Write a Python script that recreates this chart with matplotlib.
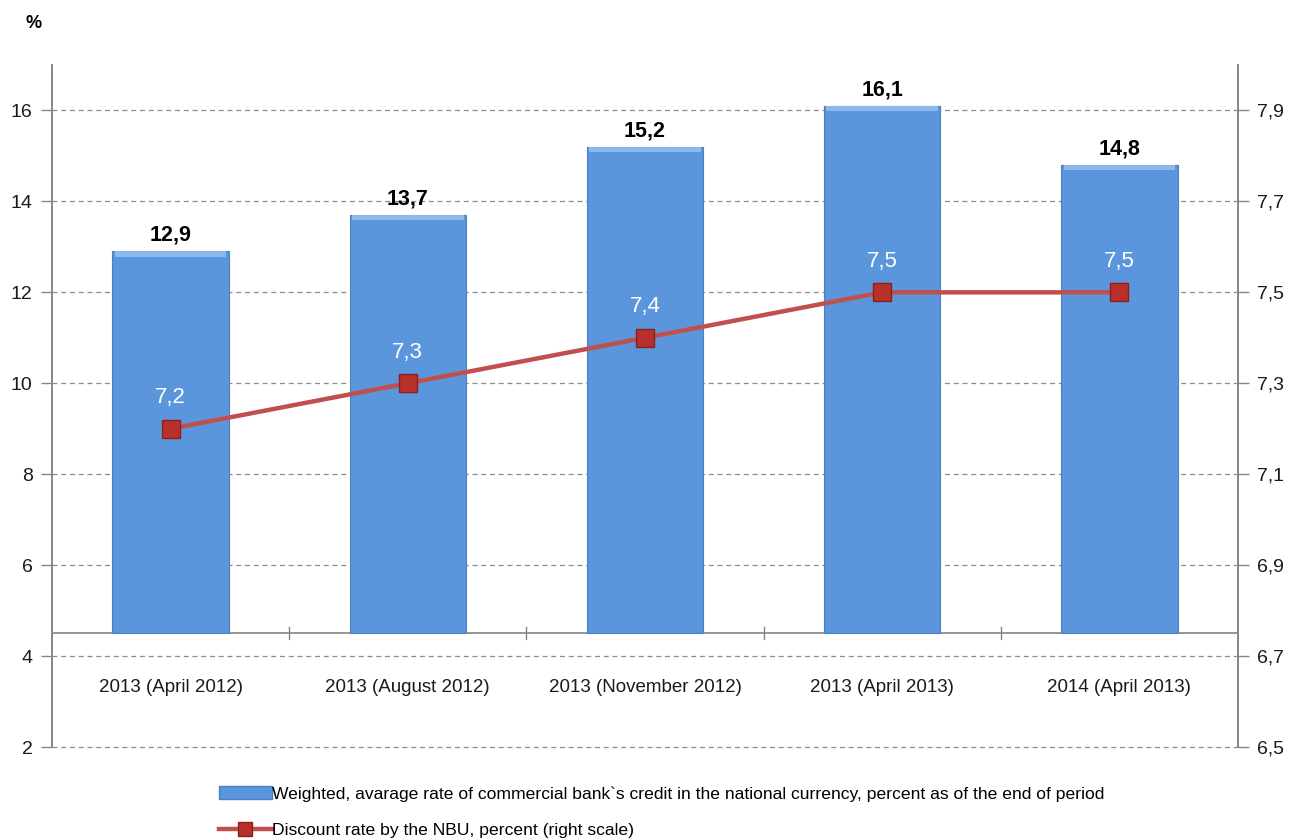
import matplotlib.pyplot as plt
from matplotlib.patches import Patch
from matplotlib.lines import Line2D

plt.rcParams['font.family'] = ['Liberation Sans', 'DejaVu Sans']

# data
categories = ['2013 (April 2012)', '2013 (August 2012)', '2013 (November 2012)',
              '2013 (April 2013)', '2014 (April 2013)']
credit_rate = [12.9, 13.7, 15.2, 16.1, 14.8]
discount_rate = [7.2, 7.3, 7.4, 7.5, 7.5]
left_ticks = [2, 4, 6, 8, 10, 12, 14, 16]
right_ticks = [6.5, 6.7, 6.9, 7.1, 7.3, 7.5, 7.7, 7.9]

bar_color = '#5B96DC'
line_color = '#C0504D'
axis_grey = '#868686'
base = 4.5  # category axis crosses here

fig = plt.figure(figsize=(12.9, 8.4), dpi=100)
ax = fig.add_axes([52 / 1290, 1 - 747 / 840, 1186 / 1290, 682 / 840])
ax2 = ax.twinx()

x = list(range(len(categories)))
heights = [v - base for v in credit_rate]
ax.bar(x, heights, bottom=base, width=0.49, color=bar_color,
       edgecolor='#4A7FC0', linewidth=0.8, zorder=3)
# light bevel on top of each bar
ax.bar(x, [0.12] * len(x), bottom=[v - 0.12 for v in credit_rate], width=0.47,
       color='#8DB8EC', linewidth=0, zorder=4)

for xi, v in zip(x, credit_rate):
    ax.text(xi, v + 0.12, f'{v:.1f}'.replace('.', ','), ha='center', va='bottom',
            fontsize=15.5, fontweight='bold', color='black', zorder=6)

ax.set_xlim(-0.5, len(categories) - 0.5)
ax.set_ylim(2, 17)
ax.set_yticks(left_ticks)
ax.set_xticks([])
for t in left_ticks:
    ax.axhline(t, linestyle=(0, (4, 3)), color='#8C8C8C', linewidth=0.9,
               zorder=0, clip_on=False)

# category axis line at 4.5 with ticks between categories
ax.axhline(base, color=axis_grey, linewidth=1.2, zorder=2)
for b in range(1, len(categories)):
    ax.plot([b - 0.5, b - 0.5], [base - 0.13, base + 0.13], color=axis_grey,
            linewidth=1.0, zorder=2)
for xi, lab in zip(x, categories):
    ax.text(xi, 3.3, lab, ha='center', va='center', fontsize=13.5, color='#1a1a1a')

ax2.plot(x, discount_rate, color=line_color, linewidth=3.2, marker='s',
         markersize=13, markerfacecolor='#B8302C', markeredgecolor='#8E1F1C',
         markeredgewidth=1, zorder=5)
for xi, v in zip(x, discount_rate):
    ax2.text(xi, v + 0.045, f'{v:.1f}'.replace('.', ','), ha='center', va='bottom',
             fontsize=16, color='white', zorder=6)
ax2.set_ylim(6.5, 8.0)
ax2.set_yticks(right_ticks)
ax2.set_yticklabels([f'{t:.1f}'.replace('.', ',') for t in right_ticks])

for a in (ax, ax2):
    for s in ('top', 'bottom'):
        a.spines[s].set_visible(False)
    a.spines['left'].set_color(axis_grey)
    a.spines['right'].set_color(axis_grey)
    a.spines['left'].set_linewidth(1.2)
    a.spines['right'].set_linewidth(1.2)
    a.tick_params(axis='y', length=8, width=1.0, color=axis_grey,
                  labelsize=14, labelcolor='#1a1a1a', pad=6)

fig.text(34 / 1290, 1 - 24 / 840, '%', ha='center', va='center',
         fontsize=13, fontweight='bold')

handles = [Patch(facecolor=bar_color, edgecolor='#4A7FC0'),
           Line2D([0], [0], color=line_color, linewidth=3.2, marker='s',
                  markersize=10, markerfacecolor='#B8302C', markeredgecolor='#8E1F1C')]
labels = ["Weighted, avarage rate of commercial bank`s credit in the national currency, percent as of the end of period",
          'Discount rate by the NBU, percent (right scale)']
fig.legend(handles, labels, loc='upper left', bbox_to_anchor=(212 / 1290, 1 - 779 / 840),
           frameon=False, fontsize=12.6, handlelength=3.0, handletextpad=0.0,
           labelspacing=1.2, borderaxespad=0)

fig.savefig('out.png', dpi=100)
